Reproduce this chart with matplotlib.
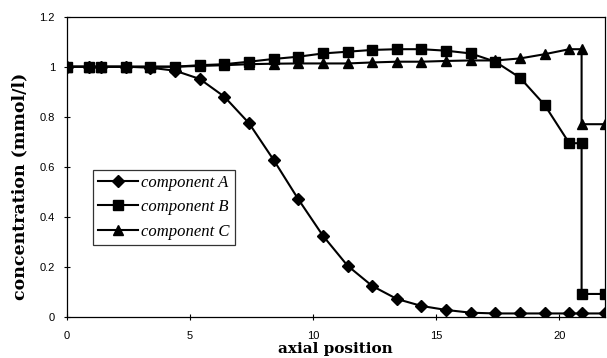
import matplotlib
matplotlib.use("Agg")
import matplotlib.pyplot as plt
from matplotlib.ticker import FixedLocator, FixedFormatter

# ---- data ----
x_a = [0, 0.9, 1.4, 2.4, 3.4, 4.4, 5.4, 6.4, 7.4, 8.4, 9.4, 10.4, 11.4, 12.4,
       13.4, 14.4, 15.4, 16.4, 17.4, 18.4, 19.4, 20.4, 20.9, 21.85]
comp_a = [1.0, 1.0, 1.0, 1.0, 0.996, 0.984, 0.951, 0.88, 0.774, 0.627, 0.47,
          0.324, 0.204, 0.123, 0.071, 0.043, 0.027, 0.016, 0.013, 0.013,
          0.013, 0.013, 0.013, 0.013]

x_bc = [0, 0.9, 1.4, 2.4, 3.4, 4.4, 5.4, 6.4, 7.4, 8.4, 9.4, 10.4, 11.4, 12.4,
        13.4, 14.4, 15.4, 16.4, 17.4, 18.4, 19.4, 20.4, 20.9, 20.9, 21.85]
comp_b = [1.0, 1.0, 1.0, 1.0, 1.0, 1.0, 1.006, 1.01, 1.02, 1.031, 1.04, 1.053,
          1.06, 1.067, 1.07, 1.07, 1.064, 1.053, 1.02, 0.956, 0.847, 0.694,
          0.694, 0.091, 0.091]
comp_c = [1.0, 1.0, 1.0, 1.0, 1.0, 1.0, 1.003, 1.006, 1.01, 1.012, 1.013,
          1.013, 1.013, 1.017, 1.02, 1.02, 1.023, 1.025, 1.025, 1.033, 1.05,
          1.07, 1.07, 0.77, 0.77]

labels = ["component A", "component B", "component C"]
x_ticks = [0, 5, 10, 15, 20]
x_tick_labels = ["0", "5", "10", "15", "20"]
y_ticks = [0, 0.2, 0.4, 0.6, 0.8, 1.0, 1.2]
y_tick_labels = ["0", "0.2", "0.4", "0.6", "0.8", "1", "1.2"]

# ---- figure ----
fig = plt.figure(figsize=(6.07, 3.58), dpi=100)
ax = fig.add_axes([66.7 / 607, 1 - 316.7 / 358, (605 - 66.7) / 607, 300 / 358])

lw = 1.5
ax.plot(x_a, comp_a, color="black", lw=lw, marker="D", ms=6, label=labels[0])
ax.plot(x_bc, comp_b, color="black", lw=lw, marker="s", ms=6.5, label=labels[1])
ax.plot(x_bc, comp_c, color="black", lw=lw, marker="^", ms=7, label=labels[2])

ax.set_xlim(0, 21.85)
ax.set_ylim(0, 1.2)
ax.xaxis.set_major_locator(FixedLocator(x_ticks))
ax.xaxis.set_major_formatter(FixedFormatter(x_tick_labels))
ax.yaxis.set_major_locator(FixedLocator(y_ticks))
ax.yaxis.set_major_formatter(FixedFormatter(y_tick_labels))

ax.tick_params(axis="both", direction="inout", length=5, width=0.8,
               labelsize=8, colors="black")
ax.tick_params(axis="x", pad=8)
ax.tick_params(axis="y", pad=6)
for lab in ax.get_xticklabels() + ax.get_yticklabels():
    lab.set_fontfamily("Liberation Sans")

for sp in ax.spines.values():
    sp.set_linewidth(0.9)
    sp.set_color("black")

ax.set_xlabel("axial position", fontfamily="DejaVu Serif", fontweight="bold",
              fontsize=11)
ax.set_ylabel("concentration (mmol/l)", fontfamily="DejaVu Serif",
              fontweight="bold", fontsize=12.5)
ax.yaxis.set_label_coords(-0.072, 0.436)
ax.xaxis.set_label_coords(0.5, -0.085)

leg = ax.legend(loc="upper left", bbox_to_anchor=((93 - 66.7) / 538.3, (316.7 - 170) / 300),
                prop={"family": "Liberation Serif", "style": "italic", "size": 12},
                frameon=True, fancybox=False, handlelength=2.4, handletextpad=0.2,
                borderpad=0.3, labelspacing=0.5, borderaxespad=0)
leg.get_frame().set_edgecolor("black")
leg.get_frame().set_linewidth(0.9)

fig.savefig("out.png", dpi=100)
